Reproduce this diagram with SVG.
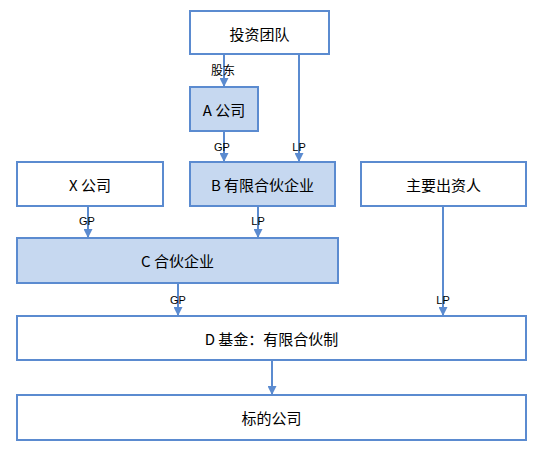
<svg xmlns="http://www.w3.org/2000/svg" width="541" height="452" viewBox="0 0 541 452">
<style>
.box{fill:#ffffff;stroke:#5B8BD0;stroke-width:2}
.hl{fill:#C6D8F0;stroke:#5B8BD0;stroke-width:2}
.t{font-family:"Noto Sans CJK SC","Liberation Sans",sans-serif;font-size:15px;fill:#000;text-anchor:middle;dominant-baseline:central}
.l{font-family:"Liberation Sans","Noto Sans CJK SC",sans-serif;font-size:11px;fill:#000;text-anchor:middle}
.c{stroke:#5B8BD0;stroke-width:2;fill:none;marker-end:url(#ah)}
</style>
<defs>
<marker id="ah" viewBox="0 0 10 10" refX="10" refY="5" markerWidth="4.5" markerHeight="4.5" markerUnits="strokeWidth" orient="auto">
<path d="M0,0 L10,5 L0,10 z" fill="#5B8BD0"/>
</marker>
</defs>
<rect width="541" height="452" fill="#ffffff"/>
<g id="connectors">
<line class="c" x1="224" y1="54" x2="224" y2="87"/>
<line class="c" x1="299" y1="54" x2="299" y2="162"/>
<line class="c" x1="224" y1="131" x2="224" y2="162"/>
<line class="c" x1="88" y1="206" x2="88" y2="238"/>
<line class="c" x1="258" y1="206" x2="258" y2="238"/>
<line class="c" x1="178" y1="283" x2="178" y2="316"/>
<line class="c" x1="443" y1="206" x2="443" y2="316"/>
<line class="c" x1="272" y1="360" x2="272" y2="395"/>
<text class="l" x="223" y="75" style="font-size:12px">股东</text>
<text class="l" x="222" y="151">GP</text>
<text class="l" x="299" y="151">LP</text>
<text class="l" x="87" y="225">GP</text>
<text class="l" x="258" y="225">LP</text>
<text class="l" x="178" y="304">GP</text>
<text class="l" x="443" y="304">LP</text>
</g>
<g id="team"><rect class="box" x="190" y="11" width="139" height="43"/><text class="t" x="259.5" y="33">投资团队</text></g>
<g id="a"><rect class="hl" x="190" y="87" width="68" height="44"/><text class="t" x="224" y="109">A 公司</text></g>
<g id="x"><rect class="box" x="17" y="162" width="146" height="44"/><text class="t" x="90" y="184">X 公司</text></g>
<g id="b"><rect class="hl" x="190" y="162" width="145" height="44"/><text class="t" x="262.5" y="184">B 有限合伙企业</text></g>
<g id="investor"><rect class="box" x="361" y="162" width="165" height="44"/><text class="t" x="443.5" y="184">主要出资人</text></g>
<g id="c"><rect class="hl" x="17" y="238" width="321" height="45"/><text class="t" x="177.5" y="260.5">C 合伙企业</text></g>
<g id="d"><rect class="box" x="17" y="316" width="509" height="44"/><text class="t" x="271.5" y="338">D 基金：有限合伙制</text></g>
<g id="target"><rect class="box" x="17" y="395" width="509" height="45"/><text class="t" x="271.5" y="417.5">标的公司</text></g>
</svg>
